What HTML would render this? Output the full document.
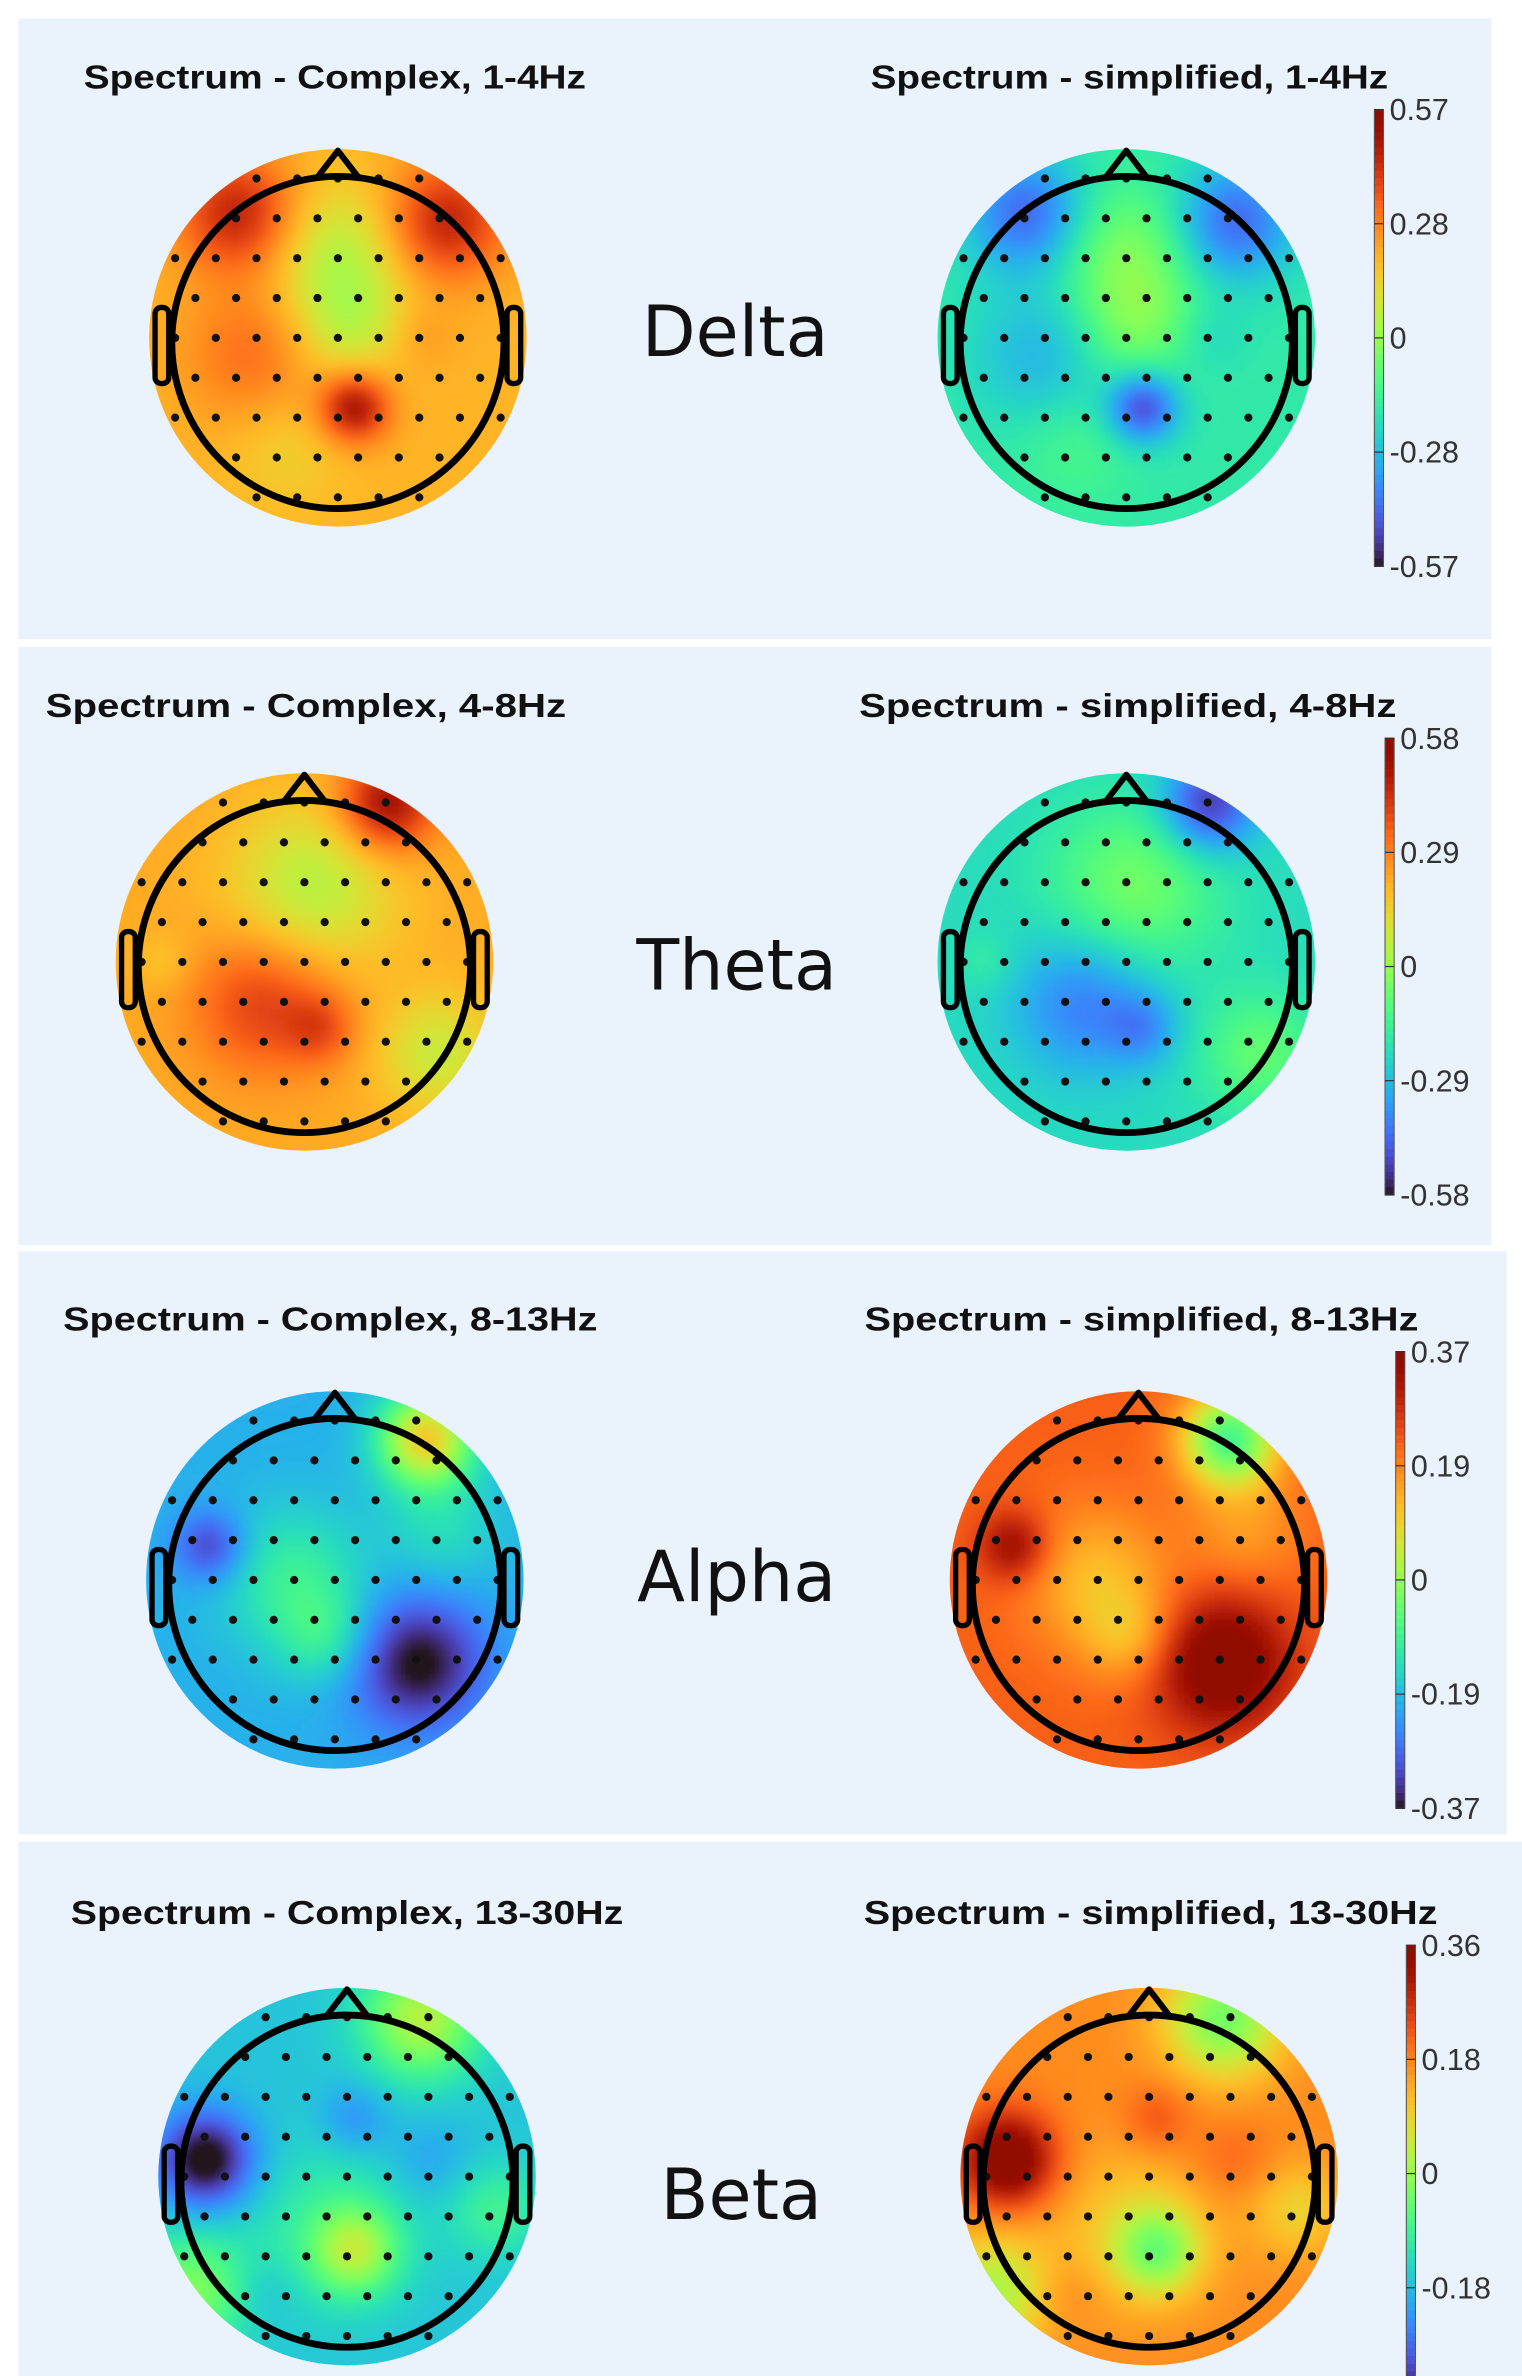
<!DOCTYPE html>
<html><head><meta charset="utf-8"><title>EEG spectrum topomaps</title>
<style>
html,body{margin:0;padding:0;background:#fff;}
svg{display:block;}
.t{font-family:"Liberation Sans",sans-serif;font-weight:bold;font-size:22px;fill:#111;}
.band{font-family:"DejaVu Sans","Liberation Sans",sans-serif;font-size:46px;fill:#111;}
.cb{font-family:"Liberation Sans",sans-serif;font-size:20px;fill:#333;}
</style></head>
<body>
<svg id="fig" width="1522" height="2376" viewBox="0 0 1000 1561" preserveAspectRatio="none" xmlns="http://www.w3.org/2000/svg">
<defs><filter id="bl" x="-5%" y="-5%" width="110%" height="110%"><feGaussianBlur stdDeviation="2.2"/></filter></defs>
<rect x="12" y="12" width="968" height="408" fill="#eaf3fc"/>
<rect x="12" y="425" width="968" height="393" fill="#eaf3fc"/>
<rect x="12" y="822" width="978" height="383" fill="#eaf3fc"/>
<rect x="12" y="1210" width="988" height="351" fill="#eaf3fc"/>
<g id="maps"></g>
</svg>
<script>
// band names, colour limits and tick labels
const bands = ["Delta","Theta","Alpha","Beta"];
const ranges = [0.57, 0.58, 0.37, 0.36];
const tickLabels = [
  ["0.57","0.28","0","-0.28","-0.57"],
  ["0.58","0.29","0","-0.29","-0.58"],
  ["0.37","0.19","0","-0.19","-0.37"],
  ["0.36","0.18","0","-0.18","-0.36"]];
const complexTitles = ["Spectrum - Complex, 1-4Hz","Spectrum - Complex, 4-8Hz","Spectrum - Complex, 8-13Hz","Spectrum - Complex, 13-30Hz"];
const simpleTitles = ["Spectrum - simplified, 1-4Hz","Spectrum - simplified, 4-8Hz","Spectrum - simplified, 8-13Hz","Spectrum - simplified, 13-30Hz"];
// field model per band: baseline value + blobs [u, v, amplitude, width] (head-normalised coords)
const baseVals = [0.2, 0.22, -0.2, -0.17];
const deltaBlobs = [[0,-0.5,-0.15,0.3],[0.05,-0.05,-0.12,0.25],[-0.5,0.1,0.12,0.3],[0.1,0.42,0.3,0.15],[-0.6,-0.75,0.25,0.25],[0.65,-0.7,0.25,0.25],[-0.3,0.65,-0.06,0.25],[0.5,0.0,0.05,0.15]];
const thetaBlobs = [[0.05,-0.45,-0.17,0.35],[-0.25,0.25,0.18,0.3],[0.1,0.4,0.12,0.15],[0.8,0.55,-0.14,0.25],[0.5,-0.95,0.3,0.2],[-0.85,0.0,-0.05,0.12]];
const alphaBlobs = [[-0.25,0.0,0.1,0.3],[-0.05,0.35,0.08,0.2],[0.5,0.5,-0.18,0.28],[-0.75,-0.2,-0.12,0.15],[0.55,-0.85,0.3,0.2],[0.65,-0.3,0.06,0.25]];
const betaBlobs = [[-0.85,-0.1,-0.22,0.2],[0.05,0.45,0.16,0.18],[-0.1,0.3,0.07,0.35],[0.45,-0.95,0.2,0.25],[-0.95,0.7,0.15,0.25],[0.05,-0.35,-0.06,0.15],[0.5,-0.1,-0.04,0.18],[-0.5,0.7,-0.03,0.15],[0.9,0.2,0.08,0.2]];
const allBlobs = [deltaBlobs, thetaBlobs, alphaBlobs, betaBlobs];
const simpleOffset = [0.02, 0.0, 0.02, 0.0];

// layout (figure units)
const leftCenters = [[222,222],[200,632],[220,1038],[228,1430]];
const rightCenters = [[740,222],[740,632],[748,1038],[755,1430]];
const cbX = [903,910,917,924];
const cbTop = [72,485,888,1278];
const cbH = 300;
const titleY = [58,471,874,1264];
const titleLX = [220,201,217,228];
const titleRX = [742,741,750,756];
const titleLW = [330,342,351,363];
const titleRW = [340,353,364,377];
const bandX = [483,484,484,487];
const bandY = [234,650,1052,1458];
const R = 124, HR = 0.88;

function turbo(t){t=Math.max(0,Math.min(1,t));
 const r=34.61+t*(1172.33-t*(10793.56-t*(33300.12-t*(38394.49-t*14825.05))));
 const g=23.31+t*(557.33+t*(1225.33-t*(3574.96-t*(1073.77+t*707.56))));
 const b=27.2+t*(3211.1-t*(15327.97-t*(27814-t*(22569.18-t*6838.66))));
 const c=v=>Math.max(0,Math.min(255,Math.round(v)));return `rgb(${c(r)},${c(g)},${c(b)})`;}
function field(b,u,v,sign){let s=baseVals[b];for(const k of allBlobs[b]){const d2=(u-k[0])**2+(v-k[1])**2;s+=k[2]*Math.exp(-d2/(2*k[3]*k[3]));}
 return sign>0?s:-s+simpleOffset[b];}
const NS="http://www.w3.org/2000/svg";
const root=document.getElementById('maps');
function mk(tag,attrs,parent){const e=document.createElementNS(NS,tag);for(const k in attrs)e.setAttribute(k,attrs[k]);(parent||root).appendChild(e);return e;}
let clipId=0;
function head(b,c,sign,name){
 const g=mk('g',{});
 
 
 const id='cp'+(clipId++);const cp=mk('clipPath',{id:id},g);mk('circle',{cx:c[0],cy:c[1],r:R},cp);
 const cg=mk('g',{'clip-path':`url(#${id})`},g);
 const hg=mk('g',{filter:'url(#bl)'},cg);
 const st=4;
 for(let y=-R-4;y<=R+4;y+=st)for(let x=-R-4;x<=R+4;x+=st){
  if(x*x+y*y>(R+8)*(R+8))continue;
  const val=field(b,x/(R*HR),y/(R*HR),sign);
  const cell=mk('rect',{x:c[0]+x-st/2,y:c[1]+y-st/2,width:st+0.6,height:st+0.6,fill:turbo(0.5+val/(2*ranges[b]))},hg);
  
  
 }
 const hr=R*HR;
 const eg=mk('g',{fill:'#111'},g);
 for(let j=-4;j<=4;j++)for(let i=-5;i<=5;i++){const u=i*0.245+(j%2?0.122:0),v=j*0.24;if(u*u+v*v>1.2)continue;
  const d=mk('circle',{cx:c[0]+u*hr,cy:c[1]+v*hr,r:2.7},eg);
  
  }
 mk('circle',{cx:c[0],cy:c[1]+3,r:hr,fill:'none',stroke:'#000','stroke-width':4.5},g);
 mk('path',{d:`M${c[0]-13} ${c[1]-hr+3} L${c[0]} ${c[1]-R+1} L${c[0]+13} ${c[1]-hr+3}`,fill:'none',stroke:'#000','stroke-width':4,'stroke-linejoin':'round'},g);
 mk('rect',{x:c[0]-hr-11,y:c[1]-20,width:9,height:50,rx:4,fill:'none',stroke:'#000','stroke-width':3.5},g);
 mk('rect',{x:c[0]+hr+2,y:c[1]-20,width:9,height:50,rx:4,fill:'none',stroke:'#000','stroke-width':3.5},g);
}
function text(cls,x,y,str,anchor,name,len){const t=mk('text',{class:cls,x:x,y:y,'text-anchor':anchor});if(len){t.setAttribute('textLength',len);t.setAttribute('lengthAdjust','spacingAndGlyphs');}
 t.textContent=str;return t;}
bands.forEach((bn,b)=>{
 head(b,leftCenters[b],1,'topomap-complex-'+bn.toLowerCase());
 head(b,rightCenters[b],-1,'topomap-simplified-'+bn.toLowerCase());
 text('t',titleLX[b],titleY[b],complexTitles[b],'middle','title-complex-'+bn.toLowerCase(),titleLW[b]);
 text('t',titleRX[b],titleY[b],simpleTitles[b],'middle','title-simplified-'+bn.toLowerCase(),titleRW[b]);
 text('band',bandX[b],bandY[b],bn,'middle','band-label-'+bn.toLowerCase(),null);
 const cg=mk('g',{});
 
 
 const n=60;
 for(let i=0;i<n;i++){const s=mk('rect',{x:cbX[b],y:cbTop[b]+i*cbH/n,width:6,height:cbH/n+0.5,fill:turbo(1-(i+0.5)/n)},cg);
  }
 mk('rect',{x:cbX[b],y:cbTop[b],width:6,height:cbH,fill:'none',stroke:'#555','stroke-width':0.7},cg);
 tickLabels[b].forEach((lb,k)=>{const y=cbTop[b]+k*cbH/4;
  mk('line',{x1:cbX[b],x2:cbX[b]+6,y1:y,y2:y,stroke:'#333','stroke-width':0.8},cg);
  if(y<1556)text('cb',cbX[b]+10,y+7,lb,'start','colorbar-tick-label',null);});
});
</script>
</body></html>
